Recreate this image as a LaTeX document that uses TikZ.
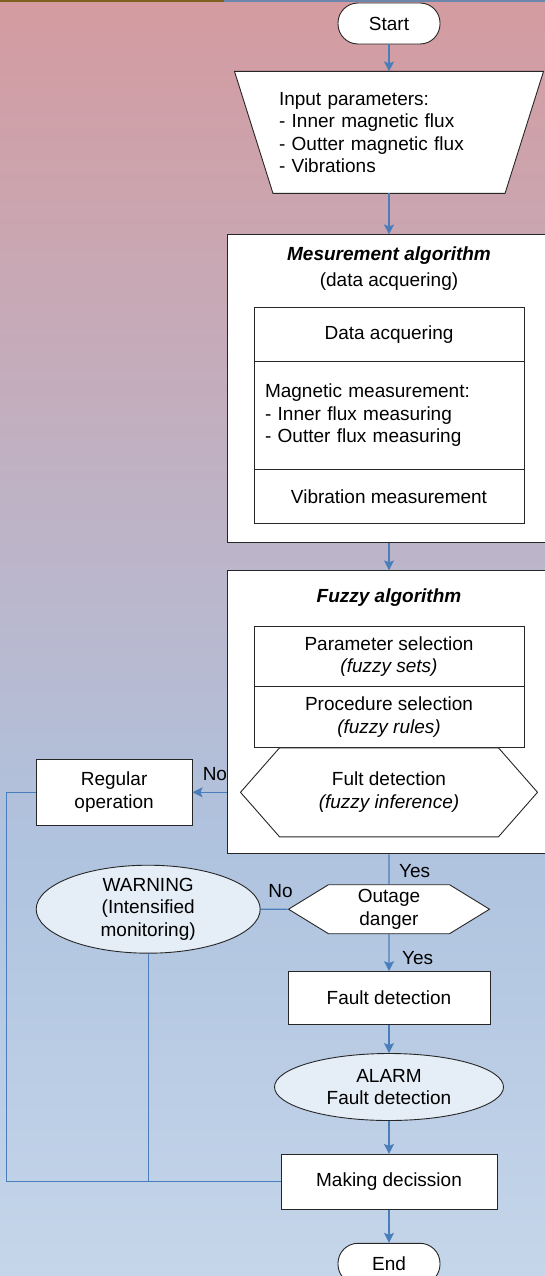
\documentclass[tikz,border=0pt]{standalone}
\usepackage{fontspec}
\setmainfont{Liberation Sans}
\usepackage{tikz}
\usetikzlibrary{shapes.geometric, shapes.symbols, arrows.meta, positioning, calc}
\definecolor{bgtop}{HTML}{D49BA0}
\definecolor{bgmid}{HTML}{AFC3DF}
\definecolor{bgbot}{HTML}{C5D6EA}
\definecolor{linkblue}{HTML}{4A7EBB}
\definecolor{edgegray}{HTML}{262626}
\definecolor{notefill}{HTML}{E5EDF7}
\definecolor{rimbrown}{HTML}{7D6020}
\definecolor{rimblue}{HTML}{6C86AC}
\pgfdeclareverticalshading{pagebg}{100bp}{color(0bp)=(bgbot); color(25bp)=(bgbot); color(41.7bp)=(bgmid); color(75bp)=(bgtop); color(100bp)=(bgtop)}
\newcommand{\chartfont}{\fontsize{19pt}{22.5pt}\selectfont}
\tikzstyle{block} = [rectangle, draw=edgegray, fill=white, line width=0.9pt, align=center, font=\chartfont]
\tikzstyle{term} = [block, rounded corners=20pt, minimum width=102pt, minimum height=41pt]
\tikzstyle{inbox} = [block, minimum width=270pt, outer sep=0pt]
\tikzstyle{hexa} = [signal, signal to=west and east, draw=edgegray, fill=white, line width=0.9pt, align=center, font=\chartfont, inner sep=0pt]
\tikzstyle{note} = [ellipse, draw=edgegray, fill=notefill, line width=0.9pt, align=center, font=\chartfont, inner sep=0pt]
\tikzstyle{tag} = [font=\chartfont, inner sep=1pt]
\tikzstyle{arrow} = [-{Stealth[length=10pt, width=10pt, inset=2pt]}, line width=1.1pt, color=linkblue]
\tikzstyle{link} = [line width=1.1pt, color=linkblue]

\begin{document}
\begin{tikzpicture}[x=1pt, y=-1pt]
    % Page
    \useasboundingbox (0,0) rectangle (545,1276);
    \clip (0,0) rectangle (545,1276);
    \shade[shading=pagebg] (0,0) rectangle (545,1276);
    \fill[rimbrown] (0,0) rectangle (224,2);
    \fill[rimblue] (224,0) rectangle (545,2);

    % Input
    \node[term] (start) at (389,23.5) {Start};
    \node[minimum width=309pt, minimum height=122pt, inner sep=0pt, outer sep=0pt, below=27pt of start] (inp) {};
    \draw[draw=edgegray, fill=white, line width=0.9pt] (inp.north west) -- (inp.north east)
        -- ([xshift=-38.5pt]inp.south east) -- ([xshift=38.5pt]inp.south west) -- cycle;
    \node[tag, text width=220pt, align=left] (inp-t) at (inp)
          {Input parameters:\\- Inner magnetic flux\\- Outter magnetic flux\\- Vibrations};

    % Measurement layer
    \node[block, minimum width=324pt, minimum height=308pt, below=41pt of inp] (meas) {};
    \node[tag, align=center, below=11.5pt of meas.north] (meas-t) {\textbf{\textit{Mesurement algorithm}}\\[3pt](data acquering)};
    \node[inbox, minimum height=54pt, below=73pt of meas.north] (data) {Data acquering};
    \node[inbox, minimum height=108pt, text width=248pt, align=left, inner xsep=11pt, below=0pt of data] (magn)
          {Magnetic measurement:\\- Inner flux measuring\\- Outter flux measuring};
    \node[inbox, minimum height=54pt, below=0pt of magn] (vib) {Vibration measurement};

    % Fuzzy layer
    \node[block, minimum width=324pt, minimum height=283pt, below=27pt of meas] (fuzzy) {};
    \node[tag, below=17.5pt of fuzzy.north] (fuzzy-t) {\textbf{\textit{Fuzzy algorithm}}};
    \node[inbox, minimum height=60pt, below=56pt of fuzzy.north] (param) {Parameter selection\\\textit{(fuzzy sets)}};
    \node[inbox, minimum height=61pt, below=0pt of param] (proc) {Procedure selection\\\textit{(fuzzy rules)}};
    \node[hexa, minimum width=297pt, minimum height=89pt, signal pointer angle=97.5, below=0pt of proc] (flt)
          {Fult detection\\\textit{(fuzzy inference)}};
    \coordinate (fz-w) at (fuzzy.west |- flt.west);
    \node[block, minimum width=156pt, minimum height=66pt, left=34pt of fz-w] (reg) {Regular\\operation};

    % Decision layer
    \node[hexa, minimum width=201pt, minimum height=49pt, signal pointer angle=63, below=30pt of fuzzy] (outage) {Outage\\danger};
    \node[note, minimum width=224pt, minimum height=80pt, left=27pt of outage] (warn) {WARNING\\(Intensified\\monitoring)};
    \node[block, minimum width=202pt, minimum height=53pt, below=37pt of outage] (fault) {Fault detection};
    \node[note, minimum width=229pt, minimum height=67pt, below=28pt of fault] (alarm) {ALARM\\Fault detection};
    \node[block, minimum width=216pt, minimum height=55pt, below=33pt of alarm] (dec) {Making decission};
    \node[term, below=33pt of dec] (endn) {End};

    % Arrows
    \draw[arrow] (start) -- (inp);
    \draw[arrow] (inp) -- (meas);
    \draw[arrow] (meas) -- (fuzzy);
    \draw[arrow] (fz-w) -- (reg.east);
    \draw[link] (fuzzy) -- (outage);
    \draw[link] (outage) -- (warn);
    \draw[arrow] (outage) -- (fault);
    \draw[arrow] (fault) -- (alarm);
    \draw[arrow] (alarm) -- (dec);
    \draw[arrow] (dec) -- (endn);
    \draw[link] (reg.west) -- ++(-29,0) |- (dec.west);
    \draw[link] (warn.south) -- (warn.south |- dec.west);

    % Branch labels
    \node[tag, above right=10pt and 9pt of reg.east] (no1) {No};
    \node[tag, anchor=west] (yes1) at ($(fuzzy.south)+(9,17)$) {Yes};
    \node[tag] (no2) at ($(outage.west)+(-7,-18)$) {No};
    \node[tag, anchor=west] (yes2) at ($(outage.south)+(12,24)$) {Yes};
\end{tikzpicture}
\end{document}
